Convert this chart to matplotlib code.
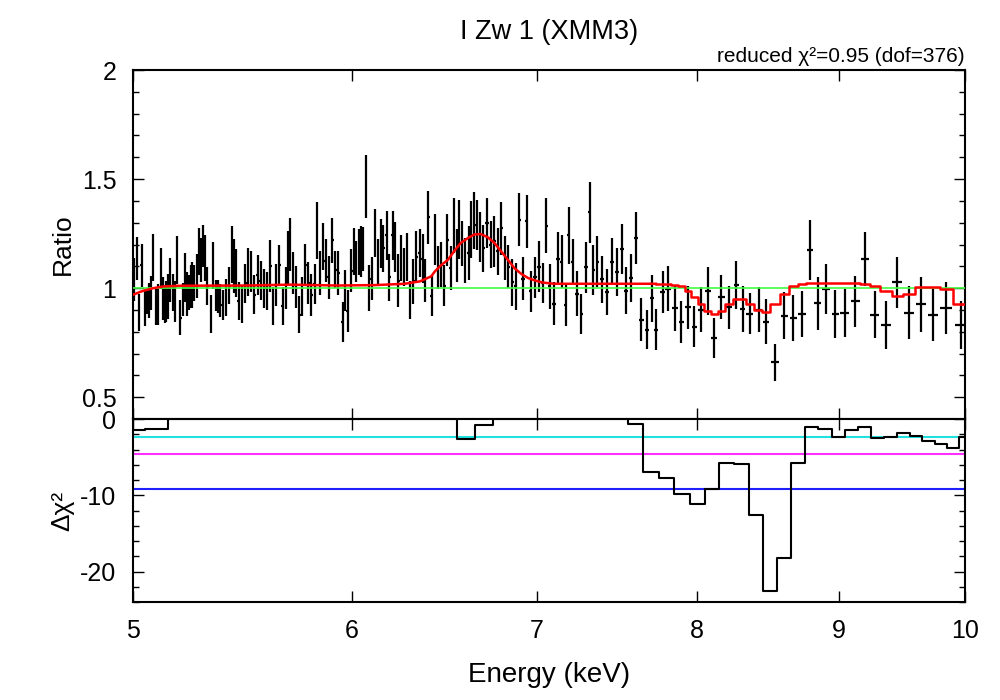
import numpy as np
import matplotlib.pyplot as plt
from matplotlib.ticker import MultipleLocator, NullLocator, FixedLocator

plt.rcParams['font.family'] = ['Liberation Sans', 'DejaVu Sans']
plt.rcParams['axes.unicode_minus'] = False

# ratio data (energy in keV, data/model ratio, 1-sigma error)
energy = [
    5.005, 5.015, 5.025, 5.036, 5.049, 5.060, 5.067, 5.076, 5.086, 5.096, 5.106, 5.118, 5.126, 5.135, 5.141,
    5.148, 5.158, 5.168, 5.178, 5.187, 5.201, 5.212, 5.222, 5.231, 5.239, 5.248, 5.254, 5.262, 5.273, 5.283,
    5.292, 5.300, 5.309, 5.320, 5.335, 5.346, 5.358, 5.367, 5.376, 5.388, 5.403, 5.418, 5.432, 5.441,
    5.447, 5.460, 5.475, 5.491, 5.503, 5.516, 5.531, 5.547, 5.562, 5.578, 5.590, 5.606, 5.618, 5.633, 5.649,
    5.664, 5.678, 5.689, 5.700, 5.713, 5.727, 5.743, 5.756, 5.772, 5.786, 5.801, 5.817, 5.830, 5.843, 5.857,
    5.870, 5.886, 5.903, 5.918, 5.933,
    5.954, 5.968, 5.979, 5.998, 6.011, 6.023, 6.035, 6.047, 6.057, 6.072, 6.086, 6.100, 6.116, 6.131, 6.146,
    6.160, 6.176, 6.190, 6.207, 6.221, 6.237, 6.251, 6.267, 6.283, 6.299, 6.315, 6.331, 6.348, 6.364, 6.378,
    6.394, 6.412, 6.430, 6.446, 6.464, 6.480,
    6.497, 6.515, 6.533, 6.548, 6.562, 6.577, 6.593, 6.613, 6.628, 6.643, 6.657, 6.676, 6.694, 6.715, 6.735,
    6.755, 6.776, 6.796, 6.817, 6.836, 6.857, 6.878, 6.897, 6.920, 6.941, 6.964, 6.989, 7.012, 7.034, 7.055,
    7.075, 7.102, 7.124, 7.146, 7.169, 7.189, 7.211, 7.237, 7.265, 7.293, 7.314, 7.338, 7.362, 7.389, 7.420,
    7.451, 7.481, 7.512, 7.541, 7.572, 7.602, 7.636, 7.673, 7.705,
]
ratio = [
    1.038, 1.135, 0.888, 1.104, 0.908, 0.939, 0.942, 0.977, 1.142, 0.916, 0.924, 1.089, 0.954, 0.928, 0.939,
    0.962, 1.038, 0.980, 0.939, 1.130, 0.865, 0.946, 1.049, 0.974, 0.980, 1.008, 1.015, 1.023, 1.054, 1.168,
    1.130, 1.194, 1.138, 1.008, 0.881, 1.104, 0.966, 0.960, 0.943, 0.922, 0.956, 1.011, 1.156, 1.102,
    1.069, 0.939, 0.927, 1.023, 1.072, 1.076, 0.969, 1.061, 1.034, 1.000, 0.988, 1.102, 0.920, 1.015, 1.104,
    0.920, 1.000, 1.141, 1.199, 1.069, 1.005, 0.878, 0.962, 1.107, 1.023, 0.969, 1.020, 1.265, 1.069, 1.191,
    1.125, 1.050, 1.219, 1.084, 1.069,
    0.844, 0.988, 0.896, 1.080, 1.168, 1.122, 1.165, 1.168, 1.179, 1.466, 1.000, 1.043, 1.255, 1.119, 1.206,
    1.182, 1.242, 1.049, 1.242, 1.188, 1.034, 1.138, 1.095, 1.145, 0.946, 1.031, 1.145, 1.161, 1.135, 1.034,
    1.324, 0.966, 1.222, 1.096, 1.107, 1.012,
    1.219, 1.092, 1.286, 1.148, 1.268, 1.206, 1.127, 1.161, 1.268, 1.309, 1.291, 1.234, 1.183, 1.298, 1.199,
    1.214, 1.168, 1.275, 1.138, 1.099, 1.026, 1.008, 1.313, 1.043, 1.306, 0.985, 1.049, 1.099, 1.023, 1.286,
    1.008, 0.928, 1.135, 1.122, 0.924, 1.242, 1.119, 0.974, 0.881, 1.095, 1.347, 1.084, 1.122, 1.041, 0.982,
    1.122, 1.072, 1.180, 0.989, 1.047, 1.228, 0.855, 0.809, 0.954,
]
ratio_err = [
    0.099, 0.098, 0.083, 0.098, 0.080, 0.058, 0.080, 0.078, 0.107, 0.087, 0.095, 0.095, 0.098, 0.087, 0.095,
    0.102, 0.101, 0.084, 0.095, 0.109, 0.080, 0.076, 0.112, 0.102, 0.078, 0.099, 0.107, 0.084, 0.101, 0.107,
    0.101, 0.096, 0.105, 0.087, 0.087, 0.107, 0.072, 0.076, 0.076, 0.069, 0.084, 0.086, 0.131, 0.122,
    0.110, 0.087, 0.087, 0.089, 0.110, 0.092, 0.089, 0.092, 0.089, 0.089, 0.087, 0.118, 0.087, 0.095, 0.095,
    0.087, 0.095, 0.122, 0.122, 0.095, 0.095, 0.084, 0.089, 0.096, 0.095, 0.095, 0.092, 0.130, 0.099, 0.107,
    0.099, 0.099, 0.104, 0.084, 0.099,
    0.092, 0.095, 0.095, 0.099, 0.107, 0.092, 0.104, 0.115, 0.099, 0.145, 0.104, 0.099, 0.110, 0.107, 0.112,
    0.107, 0.112, 0.107, 0.112, 0.115, 0.122, 0.107, 0.087, 0.110, 0.087, 0.104, 0.115, 0.110, 0.112, 0.099,
    0.122, 0.092, 0.118, 0.099, 0.104, 0.095,
    0.119, 0.099, 0.127, 0.122, 0.135, 0.104, 0.104, 0.122, 0.130, 0.130, 0.115, 0.115, 0.107, 0.115, 0.107,
    0.115, 0.107, 0.122, 0.099, 0.099, 0.107, 0.107, 0.122, 0.099, 0.122, 0.095, 0.092, 0.115, 0.092, 0.125,
    0.104, 0.099, 0.122, 0.122, 0.099, 0.130, 0.104, 0.104, 0.092, 0.115, 0.138, 0.115, 0.115, 0.107, 0.107,
    0.107, 0.110, 0.115, 0.107, 0.110, 0.119, 0.099, 0.089, 0.107,
]

# wider bins above ~7.7 keV, with the model value in each bin
energy_hi = [7.730, 7.773, 7.808, 7.852, 7.896, 7.939, 7.982, 8.024, 8.071, 8.114, 8.163, 8.216, 8.266, 8.308,
             8.359, 8.420, 8.472, 8.536, 8.603, 8.667, 8.730, 8.790, 8.844, 8.907, 8.977, 9.045, 9.127, 9.199,
             9.277, 9.363, 9.452, 9.545, 9.642, 9.736, 9.844, 9.965]
ratio_hi = [0.810, 0.981, 0.998, 0.909, 0.844, 0.912, 0.824, 0.901, 0.989, 0.771, 0.959, 0.912, 1.013, 0.904,
            0.883, 0.901, 0.847, 0.660, 0.874, 0.863, 0.881, 1.176, 0.931, 0.996, 0.881, 0.886, 0.939, 1.133,
            0.878, 0.829, 1.026, 0.888, 0.926, 0.878, 0.908, 0.832]
ratio_err_hi = [0.093, 0.096, 0.102, 0.104, 0.095, 0.099, 0.095, 0.104, 0.110, 0.092, 0.099, 0.099, 0.110, 0.104,
                0.095, 0.104, 0.104, 0.084, 0.107, 0.104, 0.107, 0.138, 0.122, 0.115, 0.110, 0.110, 0.115, 0.125,
                0.107, 0.110, 0.115, 0.122, 0.125, 0.119, 0.119, 0.110]
model_hi = [1.020, 1.020, 1.017, 1.013, 1.008, 0.985, 0.959, 0.927, 0.896, 0.882, 0.894, 0.927, 0.951, 0.951,
            0.927, 0.898, 0.889, 0.927, 0.974, 1.008, 1.020, 1.023, 1.023, 1.023, 1.023, 1.023, 1.023, 1.020,
            1.008, 0.985, 0.965, 0.974, 1.005, 1.005, 0.994, 0.927]

# model curve in the finely binned part
model_e = [5.000, 5.010, 5.030, 5.050, 5.086, 5.130, 5.200, 5.500, 5.700, 5.930, 6.120, 6.270, 6.350, 6.410,
           6.430, 6.460, 6.500, 6.540, 6.570, 6.610, 6.645, 6.680, 6.720, 6.757, 6.795, 6.833, 6.870, 6.910,
           6.950, 6.990, 7.030, 7.100, 7.400, 7.730]
model_r = [0.970, 0.974, 0.983, 0.990, 1.000, 1.008, 1.011, 1.012, 1.016, 1.012, 1.014, 1.020, 1.031, 1.054,
           1.077, 1.103, 1.130, 1.176, 1.207, 1.230, 1.246, 1.248, 1.233, 1.207, 1.168, 1.130, 1.092, 1.065,
           1.046, 1.035, 1.026, 1.020, 1.020, 1.020]

# delta chi^2 scan
scan_e = [5.0, 5.1, 5.2, 5.3, 5.4, 5.5, 5.6, 5.7, 5.8, 5.9, 6.0, 6.1, 6.2, 6.3, 6.4, 6.5, 6.6, 6.7, 6.8, 6.9,
          7.0, 7.1, 7.2, 7.3, 7.4, 7.5, 7.6, 7.7, 7.8, 7.9, 8.0, 8.1, 8.2, 8.3, 8.4, 8.5, 8.6, 8.7, 8.8, 8.9,
          9.0, 9.1, 9.2, 9.3, 9.4, 9.5, 9.6, 9.7, 9.8, 9.9, 10.0]
dchi2 = [-1.4, -1.3, 0, 0, 0, 0, 0, 0, 0, 0, 0, 0, 0, 0, 0, 0, -2.6, -0.8, 0, 0,
         0, 0, 0, 0, 0, 0, -0.65, -6.9, -7.7, -9.9, -11.2, -9.2, -5.8, -5.9, -12.6, -22.6, -18.2, -5.8, -1.1, -1.35,
         -2.4, -1.4, -1.0, -2.5, -2.4, -1.8, -2.2, -2.9, -3.3, -3.75, -2.35]
levels = [-2.3, -4.61, -9.21]
level_colors = ['#20e0e0', '#ff30ff', '#2020ff']

xticks = [5, 6, 7, 8, 9, 10]

fig = plt.figure(figsize=(10, 7), dpi=100)
ax1 = fig.add_axes([0.133, 0.4014, 0.832, 0.4986])
ax2 = fig.add_axes([0.133, 0.14, 0.832, 0.2614], sharex=ax1)

e_all = np.array(energy + energy_hi)
r_all = np.array(ratio + ratio_hi)
err_all = np.array(ratio_err + ratio_err_hi)
xerr = 0.42 * np.gradient(e_all)

ax1.errorbar(e_all, r_all, yerr=err_all, xerr=xerr, fmt='none', ecolor='black',
             elinewidth=1.6, capsize=0, zorder=2)
ax1.axhline(1.0, color='#40ff40', lw=1.2, zorder=3)
ax1.plot(model_e, model_r, color='red', lw=1.8, zorder=4)
ax1.plot(energy_hi, model_hi, color='red', lw=1.8, drawstyle='steps-mid', zorder=4)
ax1.hlines([model_hi[-1]], energy_hi[-1], 10.0, color='red', lw=1.8, zorder=4)

ax1.set_xscale('log')
ax1.set_xlim(5, 10)
ax1.set_ylim(0.4, 2.0)
ax1.set_yticks([0.5, 1, 1.5, 2])
ax1.set_yticklabels(['0.5', '1', '1.5', '2'])
ax1.yaxis.set_minor_locator(MultipleLocator(0.1))
ax1.set_ylabel('Ratio', fontsize=19, labelpad=5)
ax1.set_title('I Zw 1 (XMM3)', fontsize=19.5, pad=22)
ax1.text(1.0, 1.012, 'reduced χ²=0.95 (dof=376)', transform=ax1.transAxes,
         ha='right', va='bottom', fontsize=15)

for lv, c in zip(levels, level_colors):
    ax2.axhline(lv, color=c, lw=1.5, zorder=2)
ax2.plot(scan_e, dchi2, color='black', lw=1.5, drawstyle='steps-mid', zorder=3)
ax2.set_ylim(-24, 0)
ax2.set_yticks([0, -10, -20])
ax2.yaxis.set_minor_locator(MultipleLocator(2))
ax2.set_ylabel('Δχ²', fontsize=19, labelpad=4)
ax2.set_xlabel('Energy (keV)', fontsize=20, labelpad=14)

for ax in (ax1, ax2):
    ax.xaxis.set_major_locator(FixedLocator(xticks))
    ax.xaxis.set_minor_locator(NullLocator())
    ax.tick_params(which='both', direction='in', top=True, right=True, labelsize=18, width=1.0)
    ax.tick_params(which='major', length=8, pad=12)
    ax.tick_params(which='minor', length=4)
    for s in ax.spines.values():
        s.set_linewidth(1.5)
ax2.set_xticklabels([str(t) for t in xticks])
ax1.tick_params(labelbottom=False)

fig.savefig('out.png', dpi=100)
